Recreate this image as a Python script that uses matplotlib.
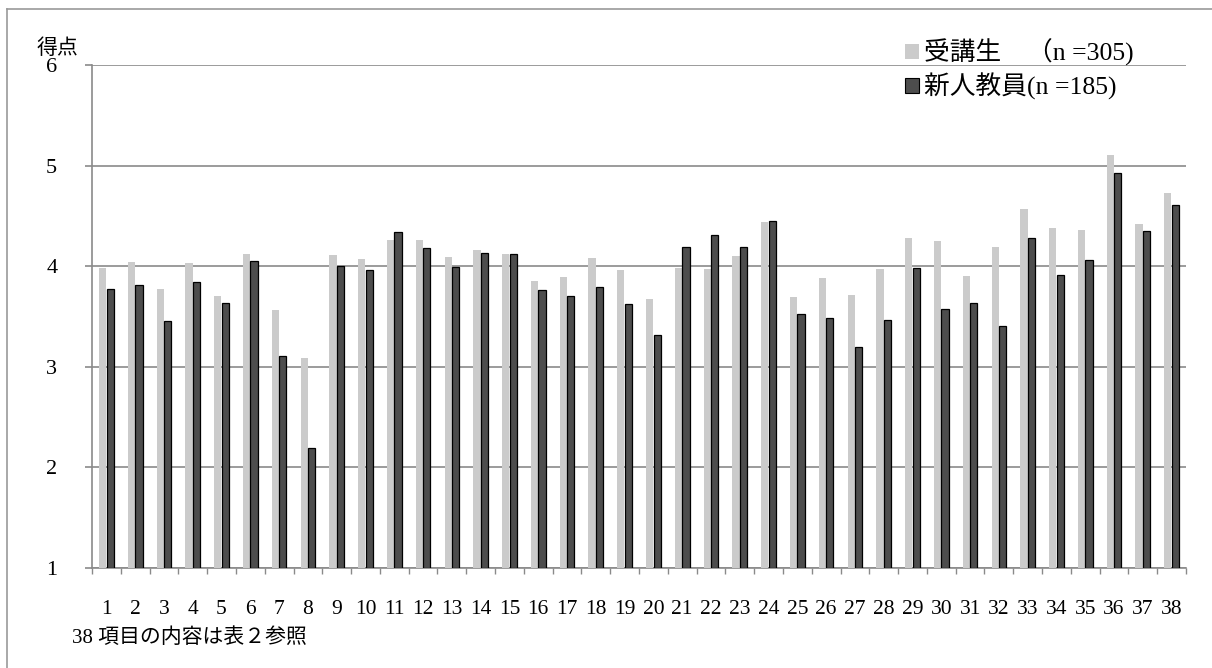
import matplotlib
matplotlib.use("Agg")
import matplotlib.pyplot as plt
import numpy as np
from matplotlib.patches import Patch
from matplotlib.lines import Line2D

plt.rcParams["font.family"] = ["Liberation Serif", "Noto Sans CJK JP"]

# item numbers 1..38
items = [str(i) for i in range(1, 39)]

# mean scores, trainees (n=305)
trainees = [3.98, 4.04, 3.77, 4.03, 3.70, 4.12, 3.56, 3.09, 4.11, 4.07,
            4.26, 4.26, 4.09, 4.16, 4.12, 3.85, 3.89, 4.08, 3.96, 3.67,
            3.98, 3.97, 4.10, 4.44, 3.69, 3.88, 3.71, 3.97, 4.28, 4.25,
            3.90, 4.19, 4.57, 4.38, 4.36, 5.11, 4.42, 4.73]

# mean scores, new teachers (n=185)
new_teachers = [3.77, 3.81, 3.46, 3.84, 3.63, 4.05, 3.11, 2.19, 4.00, 3.96,
                4.34, 4.18, 3.99, 4.13, 4.12, 3.76, 3.70, 3.79, 3.62, 3.32,
                4.19, 4.31, 4.19, 4.45, 3.52, 3.49, 3.20, 3.47, 3.98, 3.57,
                3.63, 3.41, 4.28, 3.91, 4.06, 4.93, 4.35, 4.61]

labels = ["受講生　（n =305)", "新人教員(n =185)"]
y_ticks = [1, 2, 3, 4, 5, 6]

LIGHT = "#cbcbcb"
DARK = "#4d4d4d"
GRID = "#8a8a8a"

fig = plt.figure(figsize=(12.12, 6.68), dpi=100)
ax = fig.add_axes([92 / 1212, 1 - 568 / 668, (1186 - 92) / 1212, (568 - 65) / 668])

x = np.arange(1, len(items) + 1)
w = 0.25
base = 1
ax.bar(x - 0.13, np.array(trainees) - base, w, bottom=base, color=LIGHT,
       edgecolor="none", zorder=3)
ax.bar(x + 0.13, np.array(new_teachers) - base, w, bottom=base, color=DARK,
       edgecolor="black", linewidth=0.9, zorder=3)

ax.set_xlim(0.5, len(items) + 0.5)
ax.set_ylim(1, 6)
ax.set_yticks(y_ticks)
ax.set_xticks(x)
ax.set_xticklabels(items)
ax.set_xticks(np.arange(0.5, len(items) + 1, 1), minor=True)

ax.yaxis.grid(True, color=GRID, linewidth=1.2, zorder=0)
for sp in ["top", "right"]:
    ax.spines[sp].set_visible(False)
for sp in ["left", "bottom"]:
    ax.spines[sp].set_color(GRID)
    ax.spines[sp].set_linewidth(1.2)

ax.tick_params(axis="y", length=5, color=GRID, width=1.2, pad=20, labelsize=16)
ax.tick_params(axis="x", which="major", length=0, pad=23, labelsize=15.5)
ax.tick_params(axis="x", which="minor", length=4, color=GRID, width=1.0, direction="out")

fig.text(57 / 1212, 1 - 49 / 668, "得点", ha="center", va="center", fontsize=15)
fig.text(72 / 1212, 1 - 638 / 668, "38 項目の内容は表２参照", ha="left", va="center",
         fontsize=15)

handles = [Patch(facecolor=LIGHT, edgecolor="none"),
           Patch(facecolor=DARK, edgecolor="black", linewidth=0.8)]
fig.legend(handles, labels, loc="upper left",
           bbox_to_anchor=(892 / 1212, 1 - 26 / 668), frameon=False,
           fontsize=18.5, handlelength=0.55, handleheight=0.55,
           handletextpad=0.2, labelspacing=0.25, borderpad=0)

# frame around the figure area (top and left edges)
fig.add_artist(Line2D([7 / 1212, 1], [1 - 9 / 668, 1 - 9 / 668], color="#999999", lw=1.2))
fig.add_artist(Line2D([7 / 1212, 7 / 1212], [0, 1 - 9 / 668], color="#999999", lw=1.2))

fig.savefig("out.png", dpi=100)
